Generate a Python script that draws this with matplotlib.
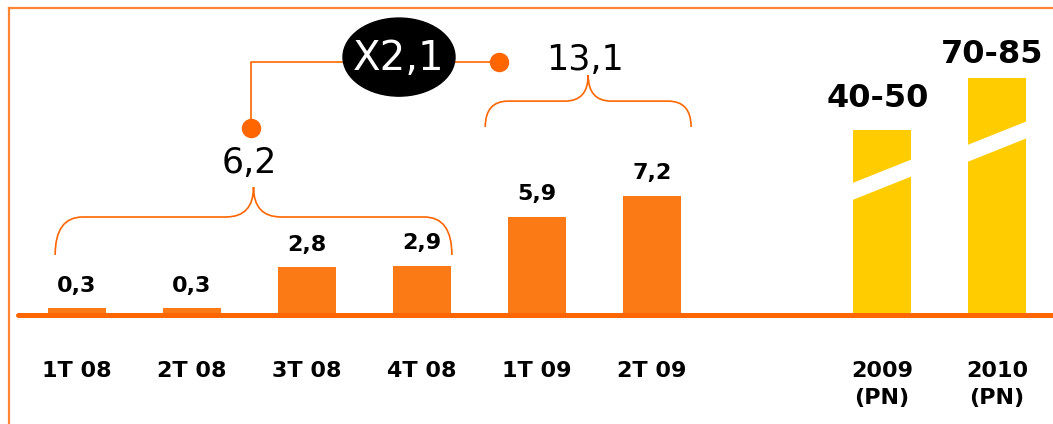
import matplotlib
matplotlib.use('Agg')
import matplotlib.pyplot as plt
from matplotlib.patches import Ellipse, Polygon, PathPatch
from matplotlib.path import Path
from matplotlib.lines import Line2D
import numpy as np

# data
quarters = ['1T 08', '2T 08', '3T 08', '4T 08', '1T 09', '2T 09']
quarter_values = [0.3, 0.3, 2.8, 2.9, 5.9, 7.2]
years = ['2009\n(PN)', '2010\n(PN)']
year_labels = ['40-50', '70-85']
year_heights = [11.2, 14.4]      # drawn height on the broken scale
group_totals = ['6,2', '13,1']
growth_label = 'X2,1'

ORANGE = '#FC7A16'
LINE = '#FF6600'
YELLOW = '#FFCC00'


def brace(ax, x0, x1, y_end, y_mid, y_tip, r, r2):
    xc = (x0 + x1) / 2
    verts = [(x0, y_end), (x0, y_mid), (x0 + r, y_mid),
             (xc - r2, y_mid),
             (xc, y_mid), (xc, y_tip),
             (xc, y_tip), (xc, y_mid), (xc + r2, y_mid),
             (x1 - r, y_mid),
             (x1, y_mid), (x1, y_end)]
    codes = [Path.MOVETO, Path.CURVE3, Path.CURVE3,
             Path.LINETO,
             Path.CURVE3, Path.CURVE3,
             Path.MOVETO, Path.CURVE3, Path.CURVE3,
             Path.LINETO,
             Path.CURVE3, Path.CURVE3]
    ax.add_patch(PathPatch(Path(verts, codes), fill=False, edgecolor=LINE, lw=1.2,
                           capstyle='butt'))


fig = plt.figure(figsize=(10.53, 4.24), dpi=100)
ax = fig.add_axes([0, 0, 1, 1])
ax.set_xlim(-77 / 115, (1053 - 77) / 115)
ax.set_ylim((313 - 424) / 16.3, 313 / 16.3)
ax.axis('off')

xq = np.arange(len(quarters))
xy = np.array([7, 8])

ax.bar(xq, quarter_values, width=0.5, color=ORANGE, zorder=2)
ax.bar(xy, year_heights, width=0.5, color=YELLOW, zorder=2)

# white break stripes on the forecast bars
for x, h in zip(xy, year_heights):
    yc = 0.73 * h
    slope, half = 2.82, 0.52
    xl, xr = x - 0.27, x + 0.27
    pts = [(xl, yc - slope * 0.27 - half), (xr, yc + slope * 0.27 - half),
           (xr, yc + slope * 0.27 + half), (xl, yc - slope * 0.27 + half)]
    ax.add_patch(Polygon(pts, closed=True, color='white', lw=0, zorder=3))

ax.plot([(18 - 77) / 115, 9], [-0.15, -0.15], color=LINE, lw=3.6, zorder=4,
        solid_capstyle='round')

for x, v in zip(xq, quarter_values):
    ax.annotate(f'{v:.1f}'.replace('.', ','), (x, v), xytext=(0, 9),
                textcoords='offset points', ha='center', va='bottom',
                fontsize=16, fontweight='bold')
for x, h, lab, pad in zip(xy, year_heights, year_labels, [12, 6]):
    ax.annotate(lab, (x - 0.04, h), xytext=(0, pad), textcoords='offset points',
                ha='center', va='bottom', fontsize=23, fontweight='bold')

for x, lab in zip(xq, quarters):
    ax.text(x, -2.95, lab, ha='center', va='top', fontsize=16, fontweight='bold')
for x, lab in zip(xy, years):
    ax.text(x, -2.95, lab, ha='center', va='top', fontsize=16, fontweight='bold',
            linespacing=1.45)

# braces over the two half-year groups
brace(ax, -0.19, 3.26, 3.56, 5.89, 7.73, 0.24, 0.24)
brace(ax, 3.55, 5.34, 11.41, 13.0, 14.6, 0.2, 0.2)
ax.text(1.5, 9.2, group_totals[0], ha='center', va='center', fontsize=25)
ax.text(4.42, 15.5, group_totals[1], ha='center', va='center', fontsize=25)

# growth bubble with connectors
ax.plot([1.51, 1.51, 2.4], [11.35, 15.4, 15.4], color=LINE, lw=1.2, zorder=1)
ax.plot([3.2, 3.67], [15.4, 15.4], color=LINE, lw=1.2, zorder=1)
ax.plot([1.51, 3.67], [11.35, 15.4], 'o', color=LINE, ms=13, zorder=2)
ax.add_patch(Ellipse((2.8, 15.7), 0.974, 4.79, color='black', zorder=3))
ax.text(2.8, 15.6, growth_label, ha='center', va='center', fontsize=29,
        color='white', zorder=4)

# frame lines along the top and left
fig.add_artist(Line2D([9 / 1053, 1], [1 - 8 / 424, 1 - 8 / 424], color='#FF8433', lw=1.6))
fig.add_artist(Line2D([9 / 1053, 9 / 1053], [0, 1 - 8 / 424], color='#FF8433', lw=1.6))

fig.savefig('out.png', dpi=100)
